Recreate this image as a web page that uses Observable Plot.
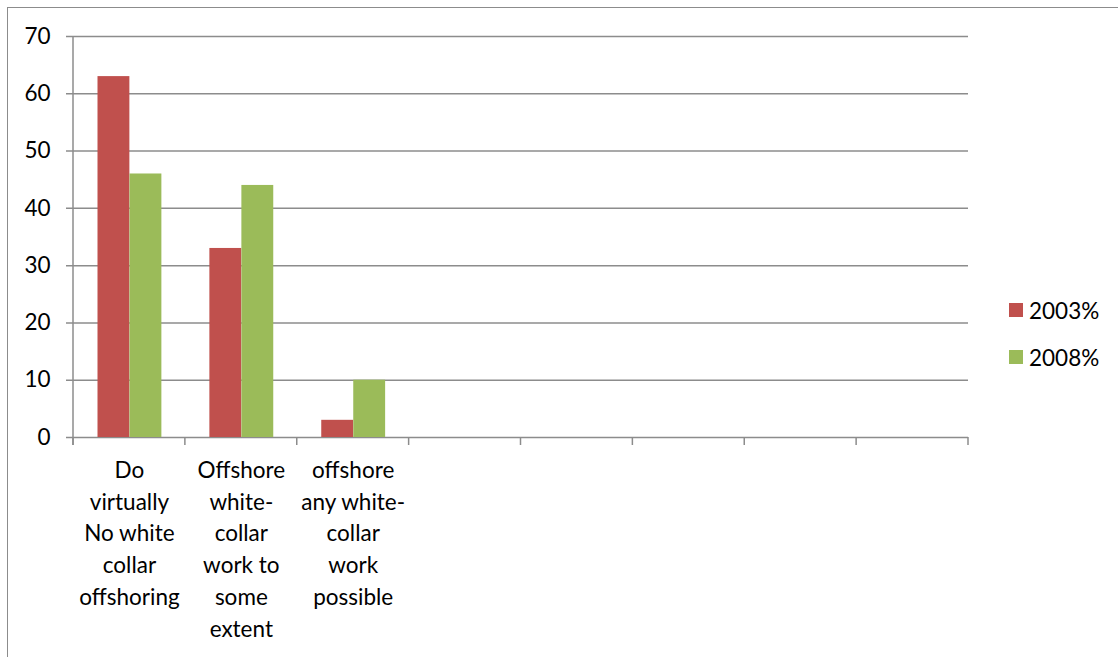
<!DOCTYPE html>
<html>
<head>
<meta charset="utf-8">
<script src="https://cdn.jsdelivr.net/npm/d3@7"></script>
<script src="https://cdn.jsdelivr.net/npm/@observablehq/plot@0.6"></script>
<style>
  html, body { margin: 0; padding: 0; background: #fff; overflow: hidden; }
  #wrap { position: relative; width: 1118px; height: 657px; overflow: hidden; font-family: Lato, "Open Sans", sans-serif; }
  #border { position: absolute; left: 7px; top: 7px; width: 1300px; height: 800px; border: 1.3px solid #8c8c8c; box-sizing: border-box; }
  #chart { position: absolute; left: 0; top: 0; }
  #legend { position: absolute; left: 1009px; top: 295px; font-size: 22.5px; color: #000; }
  .row { display: flex; align-items: center; height: 30px; margin-bottom: 17px; }
  .sw { width: 14px; height: 14px; margin-right: 6px; }
</style>
</head>
<body>
<div id="wrap">
  <div id="border"></div>
  <div id="chart"></div>
  <div id="legend"></div>
</div>
<script>
// ---- data ----
const categories = [
  "Do virtually No white collar offshoring",
  "Offshore white-collar work to some extent",
  "offshore any white-collar work possible"
];
const categoryLabels = [
  "Do\nvirtually\nNo white\ncollar\noffshoring",
  "Offshore\nwhite-\ncollar\nwork to\nsome\nextent",
  "offshore\nany white-\ncollar\nwork\npossible"
];
const series = ["2003%", "2008%"];
const values2003 = [63, 33, 3];
const values2008 = [46, 44, 10];
const yTicks = [0, 10, 20, 30, 40, 50, 60, 70];
const slotCount = 8; // category slots on the axis (5 empty)
const colors = ["#C0504D", "#9BBB59"];
const gridColor = "#8c8c8c";

const rows = [];
categories.forEach((c, i) => {
  rows.push({i, category: c, series: series[0], value: values2003[i]});
  rows.push({i, category: c, series: series[1], value: values2008[i]});
});

function axisLines(index, scales) {
  const x = scales.x, y = scales.y;
  const dom = x.domain();
  const bw = typeof x.bandwidth === "function" ? x.bandwidth() : x.bandwidth;
  const bounds = dom.map(d => x(d)).concat([x(dom[dom.length - 1]) + bw]);
  const g = d3.create("svg:g").attr("stroke", gridColor).attr("stroke-width", 1.5);
  g.append("line").attr("x1", bounds[0]).attr("x2", bounds[0])
    .attr("y1", y(yTicks[yTicks.length - 1])).attr("y2", y(0) + 8);
  bounds.forEach(b => g.append("line").attr("x1", b).attr("x2", b).attr("y1", y(0)).attr("y2", y(0) + 8));
  return g.node();
}

const plot = Plot.plot({
  width: 1118,
  height: 657,
  marginLeft: 73,
  marginRight: 150,
  marginTop: 36,
  marginBottom: 220,
  x: {type: "band", domain: d3.range(slotCount), padding: 0, round: false, axis: null},
  y: {domain: [0, 70], axis: null},
  color: {domain: series, range: colors},
  style: {fontFamily: "Lato, 'Open Sans', sans-serif", fontSize: "22.5px", color: "#000", background: "transparent", overflow: "visible"},
  marks: [
    Plot.ruleY(yTicks, {y: d => d, stroke: gridColor, strokeWidth: 1.5, insetLeft: -7}),
    Plot.text(yTicks, {y: d => d, text: d => String(d), frameAnchor: "left", textAnchor: "end", dx: -23, fontSize: 22.5, fill: "#000"}),
    Plot.barY(rows.filter(d => d.series === series[0]), {x: "i", y: "value", fill: "series", insetLeft: 24.5, insetRight: 55.5}),
    Plot.barY(rows.filter(d => d.series === series[1]), {x: "i", y: "value", fill: "series", insetLeft: 56.5, insetRight: 23.5}),
    axisLines,
    Plot.text(categories.map((c, i) => i), {x: d => d, text: i => categoryLabels[i], frameAnchor: "bottom", lineAnchor: "top", dy: 18, lineHeight: 1.41, fontSize: 22.5, fill: "#000"})
  ]
});
document.getElementById("chart").appendChild(plot);

const legend = d3.select("#legend");
series.forEach((s, k) => {
  const r = legend.append("div").attr("class", "row");
  r.append("div").attr("class", "sw").style("background", colors[k]);
  r.append("span").text(s);
});
</script>
</body>
</html>
